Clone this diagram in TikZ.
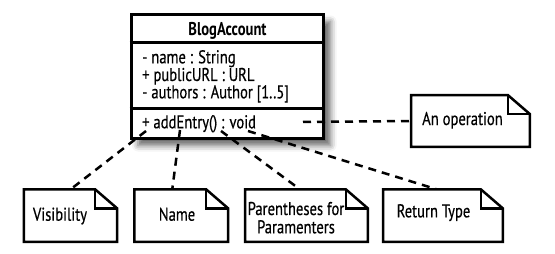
\documentclass[tikz,border=0pt]{standalone}
\usepackage{fontspec}
\setmainfont[FakeStretch=0.79, UprightFeatures={FakeBold=0.45}]{PT Sans}
\usetikzlibrary{shadows.blur}

\begin{document}
\begin{tikzpicture}[x=1pt,y=-1pt,
  txt/.style={font=\fontsize{18.5}{18.3}\selectfont, inner sep=0pt,
    text=black, text height=12pt, text depth=3pt},
  txtb/.style={txt, font=\fontsize{18.5}{18.3}\selectfont\bfseries},
  classbox/.style={draw, line width=3pt, fill=white, minimum width=192.5pt,
    minimum height=124pt, inner sep=0pt,
    blur shadow={shadow xshift=7pt, shadow yshift=-7pt,
      shadow blur radius=6pt, shadow opacity=60}},
  divider/.style={line width=3pt},
  notebox/.style={inner sep=0pt, minimum height=52pt},
  noteline/.style={line width=2.5pt, fill=white, line join=miter},
  connector/.style={line width=2.5pt, dash pattern=on 8pt off 6pt},
]
\useasboundingbox (0,0) rectangle (555,254);

% class box with its three compartments
\node[classbox] (cls) at (227.25,76.5) {};
\draw[divider] (cls.west |- 0,43) -- (cls.east |- 0,43);
\draw[divider] (cls.west |- 0,109) -- (cls.east |- 0,109);

\node[txtb, anchor=base] (title) at (227.5,36) {BlogAccount};
\node[txt, anchor=base west] (a1) at (142,63.3) {- name : String};
\node[txt, anchor=base west] (a2) at (142,81) {+ publicURL : URL};
\node[txt, anchor=base west] (a3) at (142,98.3) {- authors : Author [1..5]};
\node[txt, anchor=base west] (m1) at (142,128.3) {+ addEntry() : void};

% points of the operation that the notes refer to
\coordinate (pOp) at (303,122);
\coordinate (pVis) at (146,131);
\coordinate (pName) at (180,130);
\coordinate (pPar) at (221,131);
\coordinate (pRet) at (248,131);

% note frames
\node[notebox, minimum width=93pt] (vis) at (70.5,215.6) {};
\node[notebox, minimum width=93.5pt] (nam) at (181.25,215.6) {};
\node[notebox, minimum width=122.4pt] (par) at (306.5,215.6) {};
\node[notebox, minimum width=119.4pt] (ret) at (443,215.6) {};
\node[notebox, minimum width=118.4pt, minimum height=51.4pt] (opn) at (470.5,121) {};

% dashed anchors
\draw[connector] (pOp) -- (opn.west);
\draw[connector] (pVis) -- (vis.north);
\draw[connector] (pName) -- ([xshift=-9pt]nam.north);
\draw[connector] (pPar) -- ([xshift=-6.5pt]par.north);
\draw[connector] (pRet) -- ([xshift=-6pt]ret.north);

% dog-eared note outlines
\foreach \n in {vis,nam,par,ret,opn}{
  \draw[noteline] (\n.north west) -- ([xshift=-22pt]\n.north east)
    -- ([yshift=-19pt]\n.north east) -- (\n.south east) -- (\n.south west) -- cycle;
  \draw[noteline, fill=none] ([xshift=-22pt]\n.north east) |- ([yshift=-19pt]\n.north east);
}

% note texts
\node[txt, anchor=base] (vis-t) at (60,220.7) {Visibility};
\node[txt, anchor=base] (nam-t) at (177,220.7) {Name};
\node[font=\fontsize{18.5}{18.3}\selectfont, inner sep=0pt, align=center,
  anchor=base] (par-t) at (296,233.3) {Parentheses for\\Paramenters};
\node[txt, anchor=base] (ret-t) at (433.5,217.3) {Return Type};
\node[txt, anchor=base] (opn-t) at (462.5,125) {An operation};
\end{tikzpicture}
\end{document}
